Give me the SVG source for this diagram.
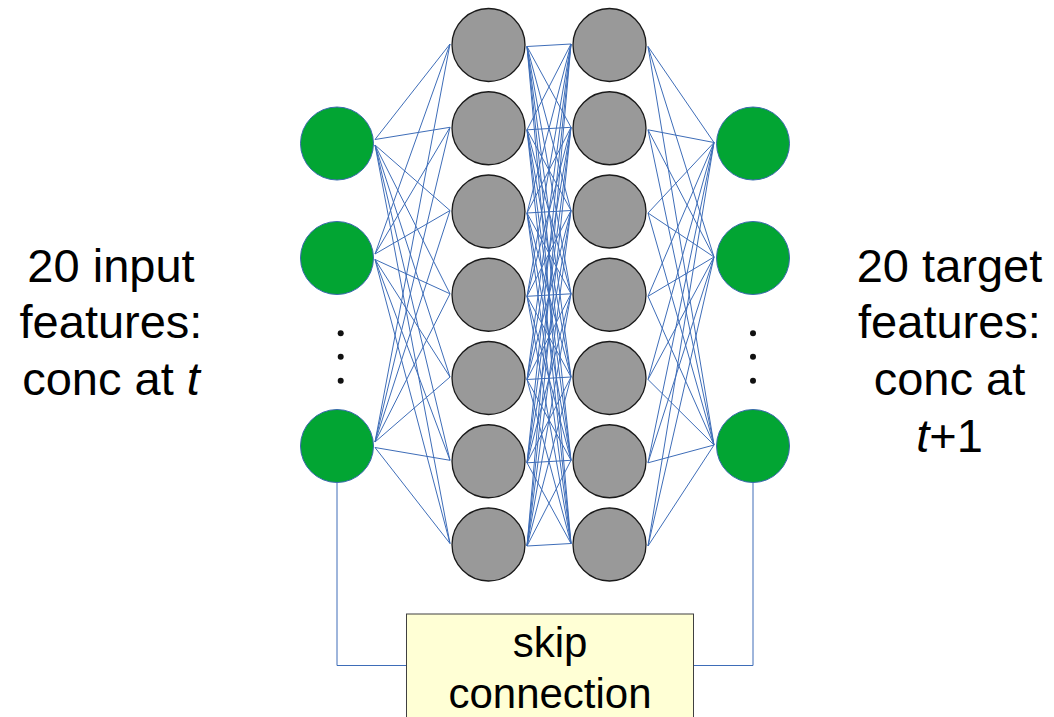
<svg xmlns="http://www.w3.org/2000/svg" width="1054" height="717" viewBox="0 0 1054 717">
<style>
.e{stroke:#3E6DB8;stroke-width:1;fill:none}
.in{fill:#02A533;stroke:#3B6AAE;stroke-width:1}
.hid{fill:#999999;stroke:#1a1a1a;stroke-width:1.3}
.dot{fill:#111}
.lbl{font-family:"Liberation Sans",Arial,sans-serif;font-size:47px;fill:#000;text-anchor:middle}
.box{font-family:"Liberation Sans",Arial,sans-serif;font-size:42px;fill:#000;text-anchor:middle}
</style>
<rect width="1054" height="717" fill="#fff"/>
<g id="connectors">
<line class="e" x1="375" y1="139.5" x2="450" y2="44"/>
<line class="e" x1="375" y1="139.5" x2="450" y2="127.3"/>
<line class="e" x1="375" y1="145" x2="450" y2="210.5"/>
<line class="e" x1="375" y1="145" x2="450" y2="293.8"/>
<line class="e" x1="375" y1="145" x2="450" y2="377"/>
<line class="e" x1="375" y1="145" x2="450" y2="460.3"/>
<line class="e" x1="375" y1="145" x2="450" y2="543.5"/>
<line class="e" x1="375" y1="254" x2="450" y2="44"/>
<line class="e" x1="375" y1="254" x2="450" y2="127.3"/>
<line class="e" x1="375" y1="254" x2="450" y2="210.5"/>
<line class="e" x1="375" y1="259.5" x2="450" y2="293.8"/>
<line class="e" x1="375" y1="259.5" x2="450" y2="377"/>
<line class="e" x1="375" y1="259.5" x2="450" y2="460.3"/>
<line class="e" x1="375" y1="259.5" x2="450" y2="543.5"/>
<line class="e" x1="375" y1="442" x2="450" y2="44"/>
<line class="e" x1="375" y1="442" x2="450" y2="127.3"/>
<line class="e" x1="375" y1="442" x2="450" y2="210.5"/>
<line class="e" x1="375" y1="442" x2="450" y2="293.8"/>
<line class="e" x1="375" y1="442" x2="450" y2="377"/>
<line class="e" x1="375" y1="447.5" x2="450" y2="460.3"/>
<line class="e" x1="375" y1="447.5" x2="450" y2="543.5"/>

<line class="e" x1="527" y1="46.5" x2="571" y2="44"/>
<line class="e" x1="527" y1="46.5" x2="571" y2="127.3"/>
<line class="e" x1="527" y1="46.5" x2="571" y2="210.5"/>
<line class="e" x1="527" y1="46.5" x2="571" y2="293.8"/>
<line class="e" x1="527" y1="46.5" x2="571" y2="377"/>
<line class="e" x1="527" y1="46.5" x2="571" y2="460.3"/>
<line class="e" x1="527" y1="46.5" x2="571" y2="543.5"/>
<line class="e" x1="527" y1="129.8" x2="571" y2="44"/>
<line class="e" x1="527" y1="129.8" x2="571" y2="127.3"/>
<line class="e" x1="527" y1="129.8" x2="571" y2="210.5"/>
<line class="e" x1="527" y1="129.8" x2="571" y2="293.8"/>
<line class="e" x1="527" y1="129.8" x2="571" y2="377"/>
<line class="e" x1="527" y1="129.8" x2="571" y2="460.3"/>
<line class="e" x1="527" y1="129.8" x2="571" y2="543.5"/>
<line class="e" x1="527" y1="213" x2="571" y2="44"/>
<line class="e" x1="527" y1="213" x2="571" y2="127.3"/>
<line class="e" x1="527" y1="213" x2="571" y2="210.5"/>
<line class="e" x1="527" y1="213" x2="571" y2="293.8"/>
<line class="e" x1="527" y1="213" x2="571" y2="377"/>
<line class="e" x1="527" y1="213" x2="571" y2="460.3"/>
<line class="e" x1="527" y1="213" x2="571" y2="543.5"/>
<line class="e" x1="527" y1="296.3" x2="571" y2="44"/>
<line class="e" x1="527" y1="296.3" x2="571" y2="127.3"/>
<line class="e" x1="527" y1="296.3" x2="571" y2="210.5"/>
<line class="e" x1="527" y1="296.3" x2="571" y2="293.8"/>
<line class="e" x1="527" y1="296.3" x2="571" y2="377"/>
<line class="e" x1="527" y1="296.3" x2="571" y2="460.3"/>
<line class="e" x1="527" y1="296.3" x2="571" y2="543.5"/>
<line class="e" x1="527" y1="379.5" x2="571" y2="44"/>
<line class="e" x1="527" y1="379.5" x2="571" y2="127.3"/>
<line class="e" x1="527" y1="379.5" x2="571" y2="210.5"/>
<line class="e" x1="527" y1="379.5" x2="571" y2="293.8"/>
<line class="e" x1="527" y1="379.5" x2="571" y2="377"/>
<line class="e" x1="527" y1="379.5" x2="571" y2="460.3"/>
<line class="e" x1="527" y1="379.5" x2="571" y2="543.5"/>
<line class="e" x1="527" y1="462.8" x2="571" y2="44"/>
<line class="e" x1="527" y1="462.8" x2="571" y2="127.3"/>
<line class="e" x1="527" y1="462.8" x2="571" y2="210.5"/>
<line class="e" x1="527" y1="462.8" x2="571" y2="293.8"/>
<line class="e" x1="527" y1="462.8" x2="571" y2="377"/>
<line class="e" x1="527" y1="462.8" x2="571" y2="460.3"/>
<line class="e" x1="527" y1="462.8" x2="571" y2="543.5"/>
<line class="e" x1="527" y1="546" x2="571" y2="44"/>
<line class="e" x1="527" y1="546" x2="571" y2="127.3"/>
<line class="e" x1="527" y1="546" x2="571" y2="210.5"/>
<line class="e" x1="527" y1="546" x2="571" y2="293.8"/>
<line class="e" x1="527" y1="546" x2="571" y2="377"/>
<line class="e" x1="527" y1="546" x2="571" y2="460.3"/>
<line class="e" x1="527" y1="546" x2="571" y2="543.5"/>

<line class="e" x1="648" y1="46.5" x2="714" y2="142.5"/>
<line class="e" x1="648" y1="46.5" x2="714" y2="257"/>
<line class="e" x1="648" y1="46.5" x2="714" y2="445"/>
<line class="e" x1="648" y1="129.8" x2="714" y2="142.5"/>
<line class="e" x1="648" y1="129.8" x2="714" y2="257"/>
<line class="e" x1="648" y1="129.8" x2="714" y2="445"/>
<line class="e" x1="648" y1="213" x2="714" y2="142.5"/>
<line class="e" x1="648" y1="213" x2="714" y2="257"/>
<line class="e" x1="648" y1="213" x2="714" y2="445"/>
<line class="e" x1="648" y1="296.3" x2="714" y2="142.5"/>
<line class="e" x1="648" y1="296.3" x2="714" y2="257"/>
<line class="e" x1="648" y1="296.3" x2="714" y2="445"/>
<line class="e" x1="648" y1="379.5" x2="714" y2="142.5"/>
<line class="e" x1="648" y1="379.5" x2="714" y2="257"/>
<line class="e" x1="648" y1="379.5" x2="714" y2="445"/>
<line class="e" x1="648" y1="462.8" x2="714" y2="142.5"/>
<line class="e" x1="648" y1="462.8" x2="714" y2="257"/>
<line class="e" x1="648" y1="462.8" x2="714" y2="445"/>
<line class="e" x1="648" y1="546" x2="714" y2="142.5"/>
<line class="e" x1="648" y1="546" x2="714" y2="257"/>
<line class="e" x1="648" y1="546" x2="714" y2="445"/>

<path class="e" d="M337,483 V665.5 H406.5"/>
<path class="e" d="M693.5,665.5 H753 V483"/>
</g>
<g id="input1"><circle class="in" cx="337" cy="143.5" r="36.5"/></g>
<g id="input2"><circle class="in" cx="337" cy="258" r="36.5"/></g>
<g id="input3"><circle class="in" cx="337" cy="446" r="36.5"/></g>
<g id="input-dots"><circle class="dot" cx="340.7" cy="333.3" r="3"/><circle class="dot" cx="340.7" cy="356.7" r="3"/><circle class="dot" cx="340.7" cy="380.7" r="3"/></g>
<g id="h1-1"><circle class="hid" cx="488.5" cy="45" r="36.5"/></g>
<g id="h1-2"><circle class="hid" cx="488.5" cy="128.25" r="36.5"/></g>
<g id="h1-3"><circle class="hid" cx="488.5" cy="211.5" r="36.5"/></g>
<g id="h1-4"><circle class="hid" cx="488.5" cy="294.75" r="36.5"/></g>
<g id="h1-5"><circle class="hid" cx="488.5" cy="378" r="36.5"/></g>
<g id="h1-6"><circle class="hid" cx="488.5" cy="461.25" r="36.5"/></g>
<g id="h1-7"><circle class="hid" cx="488.5" cy="544.5" r="36.5"/></g>
<g id="h2-1"><circle class="hid" cx="609.5" cy="45" r="36.5"/></g>
<g id="h2-2"><circle class="hid" cx="609.5" cy="128.25" r="36.5"/></g>
<g id="h2-3"><circle class="hid" cx="609.5" cy="211.5" r="36.5"/></g>
<g id="h2-4"><circle class="hid" cx="609.5" cy="294.75" r="36.5"/></g>
<g id="h2-5"><circle class="hid" cx="609.5" cy="378" r="36.5"/></g>
<g id="h2-6"><circle class="hid" cx="609.5" cy="461.25" r="36.5"/></g>
<g id="h2-7"><circle class="hid" cx="609.5" cy="544.5" r="36.5"/></g>
<g id="output1"><circle class="in" cx="753" cy="143.5" r="36.5"/></g>
<g id="output2"><circle class="in" cx="753" cy="258" r="36.5"/></g>
<g id="output3"><circle class="in" cx="753" cy="446" r="36.5"/></g>
<g id="output-dots"><circle class="dot" cx="753" cy="333.3" r="3"/><circle class="dot" cx="753" cy="356.7" r="3"/><circle class="dot" cx="753" cy="380.7" r="3"/></g>
<g id="skip">
<rect x="406.5" y="614" width="287" height="120" fill="#FFFFD5" stroke="#404040" stroke-width="1"/>
<text class="box" x="550" y="657">skip</text>
<text class="box" x="550" y="708">connection</text>
</g>
<g id="input-label">
<text class="lbl" x="111" y="282">20 input</text>
<text class="lbl" x="111" y="338">features:</text>
<text class="lbl" x="111" y="395">conc at <tspan font-style="italic">t</tspan></text>
</g>
<g id="target-label">
<text class="lbl" x="949.5" y="282">20 target</text>
<text class="lbl" x="949.5" y="338">features:</text>
<text class="lbl" x="949.5" y="395">conc at</text>
<text class="lbl" x="949.5" y="452"><tspan font-style="italic">t</tspan>+1</text>
</g>
</svg>
